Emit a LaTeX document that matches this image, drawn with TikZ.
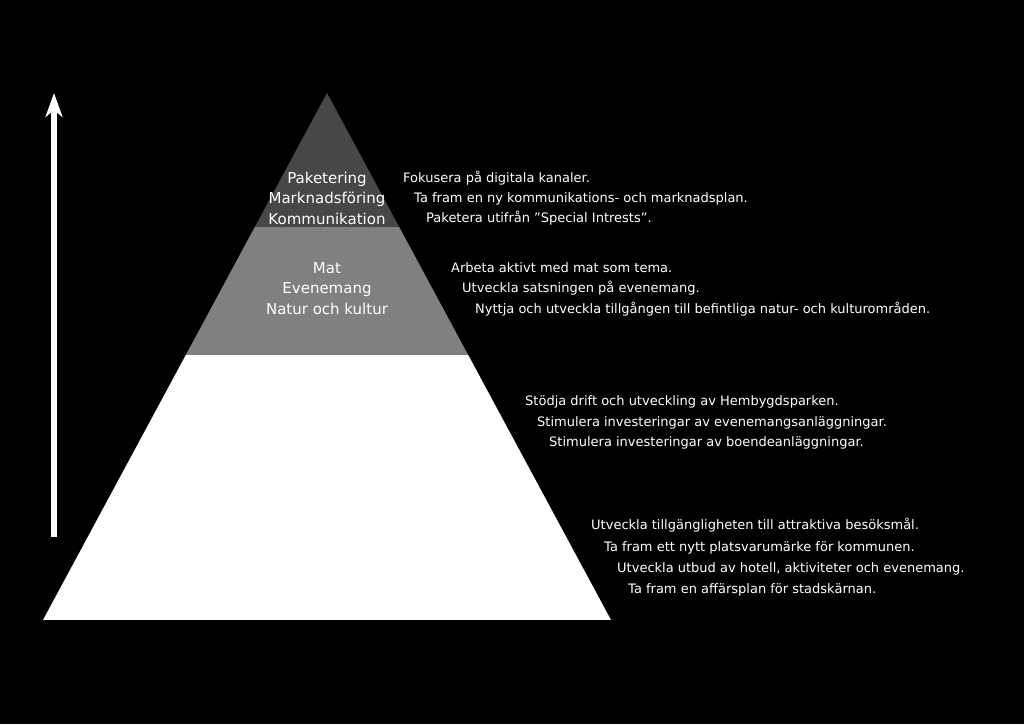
\documentclass[tikz,border=0pt]{standalone}
\usepackage{fontspec}
\setmainfont{DejaVu Sans}
\usetikzlibrary{arrows.meta}

\begin{document}
\begin{tikzpicture}[
	x=1pt, y=-1pt,
	toplayer/.style={fill=black!72},
	midlayer/.style={fill=black!50},
	baselayer/.style={fill=white},
	tiertext/.style={text=white, align=center, inner sep=0pt, font=\fontsize{15}{20.5}\selectfont},
	goal/.style={text=white, anchor=base west, inner sep=0pt, font=\fontsize{13}{15}\selectfont},
	>={Stealth[length=24pt, width=17pt, inset=7pt]}
]

\fill[black] (0,0) rectangle (1024,724);
\useasboundingbox (0,0) rectangle (1024,724);

\coordinate (apex) at (327,93);
\coordinate (bl) at (43,620);
\coordinate (br) at (611,620);

\begin{scope}
	\clip (apex) -- (br) -- (bl) -- cycle;
	\fill[toplayer] (0,93) rectangle (1024,227);
	\fill[midlayer] (0,227) rectangle (1024,355);
	\fill[baselayer] (0,355) rectangle (1024,620);
\end{scope}

\node[tiertext] (tiertop) at (327,198) {Paketering\\Marknadsföring\\Kommunikation};
\node[tiertext] (tiermid) at (327,288.5) {Mat\\Evenemang\\Natur och kultur};

\foreach \n/\x/\y/\t in {
	g1/403/182/{Fokusera på digitala kanaler.},
	g2/414/202/{Ta fram en ny kommunikations- och marknadsplan.},
	g3/426/222/{Paketera utifrån ”Special Intrests”.},
	g4/451/272.5/{Arbeta aktivt med mat som tema.},
	g5/462/292.5/{Utveckla satsningen på evenemang.},
	g6/475/313/{Nyttja och utveckla tillgången till befintliga natur- och kulturområden.},
	g7/525/405/{Stödja drift och utveckling av Hembygdsparken.},
	g8/537/426/{Stimulera investeringar av evenemangsanläggningar.},
	g9/549/446/{Stimulera investeringar av boendeanläggningar.},
	g10/591/529/{Utveckla tillgängligheten till attraktiva besöksmål.},
	g11/604/551/{Ta fram ett nytt platsvarumärke för kommunen.},
	g12/617/572/{Utveckla utbud av hotell, aktiviteter och evenemang.},
	g13/628/593/{Ta fram en affärsplan för stadskärnan.}}
	\node[goal] (\n) at (\x,\y) {\t};

\coordinate (arrowtail) at (54,537);
\coordinate (arrowhead) at (54,93);
\draw[->, white, line width=5.5pt] (arrowtail) -- (arrowhead);

\end{tikzpicture}
\end{document}
